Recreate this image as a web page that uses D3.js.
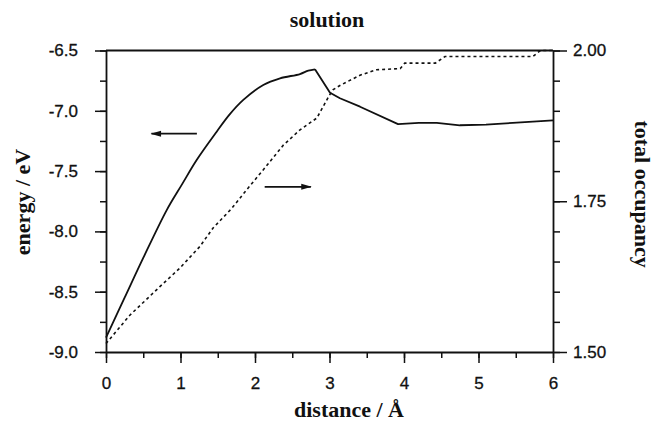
<!DOCTYPE html>
<html>
<head>
<meta charset="utf-8">
<script src="https://cdn.jsdelivr.net/npm/d3@7"></script>
<style>
  body { margin: 0; background: #fff; }
  svg { display: block; }
  .tick text { font-family: "Liberation Sans", Arial, sans-serif; font-size: 17px; fill: #111; stroke: #111; stroke-width: 0.3px; }
  .ttl { font-family: "Liberation Serif", "Times New Roman", serif; font-weight: bold; fill: #111; }
</style>
</head>
<body>
<div id="chart"></div>
<script>
// energy curve (solid, left axis)
const energyDist = [0, 0.25, 0.5, 0.815, 1.02, 1.217, 1.486, 1.66, 1.843, 2.111, 2.336, 2.604, 2.715, 2.805, 3.007, 3.14, 3.41, 3.92, 4.2, 4.44, 4.75, 5.1, 5.46, 6];
const energyVal  = [-8.88, -8.55, -8.22, -7.823, -7.61, -7.408, -7.173, -7.03, -6.91, -6.786, -6.731, -6.695, -6.667, -6.656, -6.85, -6.896, -6.966, -7.11, -7.10, -7.10, -7.12, -7.115, -7.10, -7.08];

// total occupancy curve (dotted, right axis)
const occDist = [0, 0.32, 0.72, 0.99, 1.26, 1.44, 1.687, 1.888, 2.11, 2.38, 2.6, 2.83, 3.0, 3.05, 3.14, 3.41, 3.63, 3.95, 4.01, 4.42, 4.55, 5.73, 5.83, 6];
const occVal  = [1.514, 1.561, 1.608, 1.639, 1.675, 1.706, 1.738, 1.769, 1.802, 1.843, 1.868, 1.888, 1.926, 1.935, 1.942, 1.959, 1.968, 1.970, 1.979, 1.979, 1.990, 1.990, 2.0, 2.0];

const xTicks = [0, 1, 2, 3, 4, 5, 6];
const energyTicks = [-9.0, -8.5, -8.0, -7.5, -7.0, -6.5];
const occTicks = [1.50, 1.75, 2.00];

// arrows telling which curve goes to which axis (data units)
const leftArrow  = { y: -7.19, from: 1.22, to: 0.61 };
const rightArrow = { y: 1.774, from: 2.13, to: 2.75 };

const W = 654, H = 424;
const margin = { top: 50.5, right: 101, bottom: 72, left: 106 };

const svg = d3.select("#chart").append("svg")
    .attr("width", W)
    .attr("height", H);

const x = d3.scaleLinear().domain([0, 6]).range([margin.left, W - margin.right]);
const yE = d3.scaleLinear().domain([-9, -6.5]).range([H - margin.bottom, margin.top]);
const yO = d3.scaleLinear().domain([1.5, 2.0]).range([H - margin.bottom, margin.top]);

svg.append("defs").append("marker")
    .attr("id", "head")
    .attr("viewBox", "0 0 12 8")
    .attr("refX", 11).attr("refY", 4)
    .attr("markerWidth", 12).attr("markerHeight", 7)
    .attr("markerUnits", "userSpaceOnUse")
    .attr("orient", "auto")
  .append("path")
    .attr("d", "M0,0.5 L12,4 L0,7.5 Z")
    .attr("fill", "#111");

// minor ticks
const minorX = d3.range(0, 6.01, 0.5);
const minorE = d3.range(-9, -6.49, 0.25);
const minorO = d3.range(1.5, 2.001, 0.05);

svg.append("g")
    .attr("transform", `translate(0,${H - margin.bottom})`)
    .call(d3.axisBottom(x).tickValues(minorX).tickSize(6).tickFormat(""))
    .call(g => g.select(".domain").remove());
svg.append("g")
    .attr("transform", `translate(${margin.left},0)`)
    .call(d3.axisLeft(yE).tickValues(minorE).tickSize(6).tickFormat(""))
    .call(g => g.select(".domain").remove());
svg.append("g")
    .attr("transform", `translate(${W - margin.right},0)`)
    .call(d3.axisRight(yO).tickValues(minorO).tickSize(7).tickFormat(""))
    .call(g => g.select(".domain").remove());

// major axes
svg.append("g")
    .attr("transform", `translate(0,${H - margin.bottom})`)
    .call(d3.axisBottom(x).tickValues(xTicks).tickSize(11).tickPadding(14).tickSizeOuter(0).tickFormat(d3.format("d")));
svg.append("g")
    .attr("transform", `translate(${margin.left},0)`)
    .call(d3.axisLeft(yE).tickValues(energyTicks).tickSize(11).tickPadding(17).tickSizeOuter(0).tickFormat(d3.format(".1f")));
svg.append("g")
    .attr("transform", `translate(${W - margin.right},0)`)
    .call(d3.axisRight(yO).tickValues(occTicks).tickSize(14).tickPadding(6).tickSizeOuter(0).tickFormat(d3.format(".2f")));

// top frame line
svg.append("line")
    .attr("x1", x(0)).attr("x2", x(6))
    .attr("y1", yE(-6.5)).attr("y2", yE(-6.5))
    .attr("stroke", "#111").attr("stroke-width", 1.8);

svg.selectAll(".domain").attr("stroke", "#111").attr("stroke-width", 1.8);
svg.selectAll(".tick line").attr("stroke", "#111").attr("stroke-width", 1.5);
svg.selectAll(".tick text").text(function () { return this.textContent.replace("\u2212", "-"); });

// curves
const energyData = energyDist.map((d, i) => ({ d, v: energyVal[i] }));
const occData = occDist.map((d, i) => ({ d, v: occVal[i] }));

// smooth rise up to the peak, then the straighter descent
const peak = d3.maxIndex(energyVal);
svg.append("path")
    .datum(energyData.slice(0, peak + 1))
    .attr("fill", "none")
    .attr("stroke", "#111")
    .attr("stroke-width", 1.8)
    .attr("d", d3.line().x(p => x(p.d)).y(p => yE(p.v)).curve(d3.curveCatmullRom.alpha(0.5)));
svg.append("path")
    .datum(energyData.slice(peak))
    .attr("fill", "none")
    .attr("stroke", "#111")
    .attr("stroke-width", 1.8)
    .attr("stroke-linejoin", "round")
    .attr("d", d3.line().x(p => x(p.d)).y(p => yE(p.v)));

svg.append("path")
    .datum(occData)
    .attr("fill", "none")
    .attr("stroke", "#111")
    .attr("stroke-width", 1.6)
    .attr("stroke-dasharray", "3,3")
    .attr("d", d3.line().x(p => x(p.d)).y(p => yO(p.v)));

// arrows
svg.append("line")
    .attr("x1", x(leftArrow.from)).attr("x2", x(leftArrow.to))
    .attr("y1", yE(leftArrow.y)).attr("y2", yE(leftArrow.y))
    .attr("stroke", "#111").attr("stroke-width", 1.8)
    .attr("marker-end", "url(#head)");
svg.append("line")
    .attr("x1", x(rightArrow.from)).attr("x2", x(rightArrow.to))
    .attr("y1", yO(rightArrow.y)).attr("y2", yO(rightArrow.y))
    .attr("stroke", "#111").attr("stroke-width", 1.8)
    .attr("marker-end", "url(#head)");

// titles
svg.append("text").attr("class", "ttl")
    .attr("x", 327).attr("y", 27)
    .attr("text-anchor", "middle")
    .style("font-size", "22px")
    .text("solution");

svg.append("text").attr("class", "ttl")
    .attr("x", 349).attr("y", 417)
    .attr("text-anchor", "middle")
    .style("font-size", "22px")
    .text("distance / Å");

svg.append("text").attr("class", "ttl")
    .attr("transform", `translate(30,202) rotate(-90)`)
    .attr("text-anchor", "middle")
    .style("font-size", "22px")
    .text("energy / eV");

svg.append("text").attr("class", "ttl")
    .attr("transform", `translate(635,194) rotate(90)`)
    .attr("text-anchor", "middle")
    .style("font-size", "22px")
    .text("total occupancy");
</script>
</body>
</html>
